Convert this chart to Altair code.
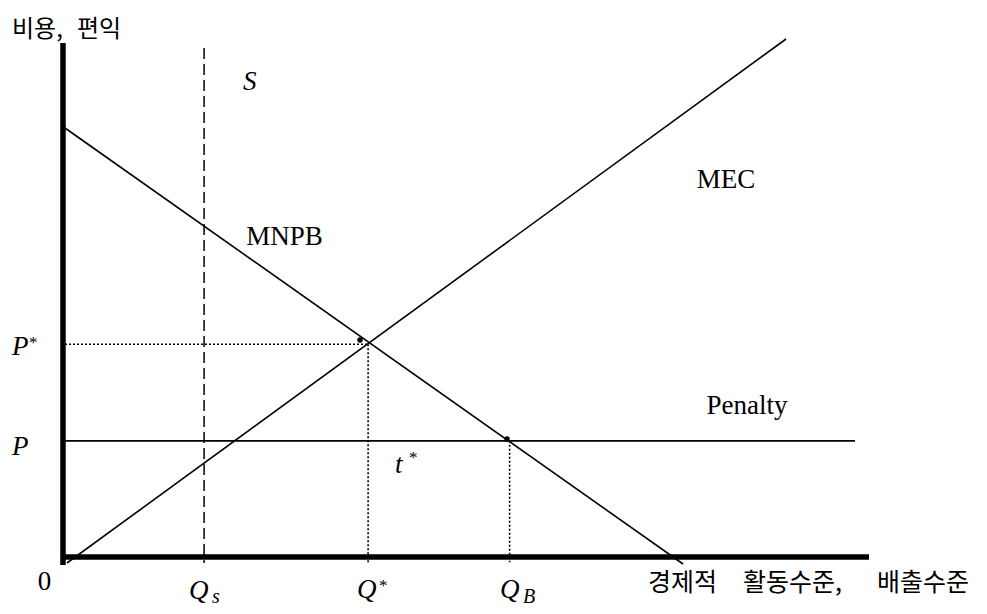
import altair as alt
import pandas as pd

# ---- key quantities (economic units) ----
Q_S = 17.3
Q_STAR = 37.7
Q_B = 55.3
P_STAR = 41.4
P_PEN = 22.6

# ---- curves (solid) ----
curve_names = ["MNPB", "MEC", "Penalty"]
curve_x0 = [0.0, 0.25, 0.0]
curve_y0 = [83.46, -1.17, P_PEN]
curve_x1 = [76.87, 89.68, 98.26]
curve_y1 = [-1.36, 100.78, P_PEN]

# ---- thick axes ----
axis_names = ["y-axis", "x-axis"]
axis_x0 = [-0.25, -0.5]
axis_y0 = [-1.56, 0.0]
axis_x1 = [-0.25, 100.0]
axis_y1 = [100.0, 0.0]

# ---- standard S (dashed) ----
s_x = [Q_S]
s_y0 = [99.03]
s_y1 = [-1.17]

# ---- dotted guides ----
guide_x0 = [0.0, Q_STAR, Q_B]
guide_y0 = [P_STAR, P_STAR, P_PEN]
guide_x1 = [Q_STAR, Q_STAR, Q_B]
guide_y1 = [P_STAR, -1.2, -1.0]

# ---- points ----
pt_x = [36.69, 54.98]
pt_y = [42.22, 22.96]

# ---- labels ----
upright_text = ["MNPB", "MEC", "Penalty", "0"]
upright_x = [27.30, 82.21, 84.83, -2.55]
upright_y = [60.70, 71.79, 27.82, -6.42]

italic_text = ["S", "P", "P", "t", "Q", "Q", "Q"]
italic_x = [22.14, -6.59, -6.59, 41.04, 15.42, 36.32, 54.10]
italic_y = [90.86, 39.30, 19.84, 16.34, -8.17, -7.98, -7.98]

star_x = [-4.48, 42.79, 39.05]
star_y = [40.66, 18.29, -6.61]

sub_text = ["s", "B"]
sub_x = [18.28, 56.97]
sub_y = [-8.95, -8.95]

kr_top_text = ["비용,", "편익"]
kr_top_x = [-6.59, 1.49]
kr_top_y = [101.17, 101.17]

kr_bot_text = ["경제적", "활동수준,", "배출수준"]
kr_bot_x = [72.51, 84.33, 101.0]
kr_bot_y = [-6.61, -6.61, -6.61]

# ---- layout ----
W, H = 971, 598
X_DOM = [-7.0896, 113.682]
Y_DOM = [-9.533, 106.809]

xs = alt.Scale(domain=X_DOM, nice=False, zero=False)
ys = alt.Scale(domain=Y_DOM, nice=False, zero=False)


def seg_layer(x0, y0, x1, y1, **mk):
    df = pd.DataFrame({"x0": x0, "y0": y0, "x1": x1, "y1": y1})
    return alt.Chart(df).mark_rule(color="black", **mk).encode(
        x=alt.X("x0:Q", scale=xs, axis=None),
        y=alt.Y("y0:Q", scale=ys, axis=None),
        x2="x1:Q",
        y2="y1:Q",
    )


def text_layer(texts, x, y, **mk):
    df = pd.DataFrame({"t": texts, "x": x, "y": y})
    return alt.Chart(df).mark_text(color="black", baseline="alphabetic", **mk).encode(
        x=alt.X("x:Q", scale=xs, axis=None),
        y=alt.Y("y:Q", scale=ys, axis=None),
        text="t:N",
    )


axes_layer = seg_layer(axis_x0, axis_y0, axis_x1, axis_y1, strokeWidth=5.5)
curves_layer = seg_layer(curve_x0, curve_y0, curve_x1, curve_y1, strokeWidth=1.6)
s_layer = seg_layer(s_x, s_y0, s_x, s_y1, strokeWidth=1.5, strokeDash=[11, 5])
guides_layer = seg_layer(guide_x0, guide_y0, guide_x1, guide_y1, strokeWidth=1.6, strokeDash=[2, 2])

pts_layer = alt.Chart(pd.DataFrame({"x": pt_x, "y": pt_y})).mark_point(
    filled=True, color="black", size=30, opacity=1
).encode(
    x=alt.X("x:Q", scale=xs, axis=None),
    y=alt.Y("y:Q", scale=ys, axis=None),
)

serif = "Liberation Serif, serif"
t_up = text_layer(upright_text, upright_x, upright_y, font=serif, fontSize=27, align="center")
t_it = text_layer(italic_text, italic_x, italic_y, font=serif, fontSize=27, fontStyle="italic", align="left")
t_star = text_layer(["*", "*", "*"], star_x, star_y, font=serif, fontSize=17, align="left")
t_sub = text_layer(sub_text, sub_x, sub_y, font=serif, fontSize=20, fontStyle="italic", align="left")
t_kr_top = text_layer(kr_top_text, kr_top_x, kr_top_y, font="Noto Sans CJK KR", fontSize=24, align="left")
t_kr_bot = text_layer(kr_bot_text, kr_bot_x, kr_bot_y, font="Noto Sans CJK KR", fontSize=25, align="left")

chart = alt.layer(
    curves_layer, s_layer, guides_layer, axes_layer, pts_layer,
    t_up, t_it, t_star, t_sub, t_kr_top, t_kr_bot,
).properties(
    width=W, height=H, padding=0, autosize="none", background="white"
).configure_view(stroke=None)

chart.save("out.html", embed_options={"renderer": "svg", "actions": False})
